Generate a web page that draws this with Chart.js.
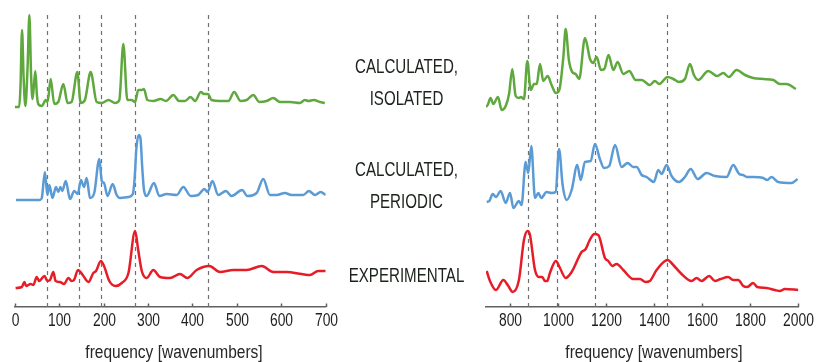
<!DOCTYPE html>
<html>
<head>
<meta charset="utf-8">
<script src="https://cdn.jsdelivr.net/npm/chart.js@4.4.1/dist/chart.umd.min.js"></script>
<style>
  body { margin: 0; background: #fff; width: 816px; height: 362px; position: relative; overflow: hidden;
         font-family: 'Liberation Sans', Arial, sans-serif; }
  #left { position: absolute; left: 0; top: 0; width: 345px; height: 362px; }
  #right { position: absolute; left: 466px; top: 0; width: 350px; height: 362px; }
  .lbl { position: absolute; left: 306px; width: 201px; text-align: center; font-size: 21px;
         line-height: 32px; color: #1c221c; transform: scaleX(0.72); }
  .axt { position: absolute; width: 260px; text-align: center; font-size: 18px; line-height: 20px;
         top: 342px; color: #262626; transform: scaleX(0.86); }
</style>
</head>
<body>
<div id="left"><canvas id="lowChart"></canvas></div>
<div id="right"><canvas id="highChart"></canvas></div>
<div class="lbl" style="top:50px">CALCULATED,<br>ISOLATED</div>
<div class="lbl" style="top:153px">CALCULATED,<br>PERIODIC</div>
<div class="lbl" style="top:259px">EXPERIMENTAL</div>
<div class="axt" style="left:44px">frequency [wavenumbers]</div>
<div class="axt" style="left:524px">frequency [wavenumbers]</div>

<script>
// tick labels
const lowTicks = [0, 100, 200, 300, 400, 500, 600, 700];
const highTicks = [800, 1000, 1200, 1400, 1600, 1800, 2000];

// dashed reference frequencies
const lowMarks = [72, 144, 195, 271, 435];
const highMarks = [875, 995, 1155, 1455];

// vertical offset of each trace (stacked spectra)
const offsetIsolated = 200;
const offsetPeriodic = 107;
const offsetExperimental = 19;

// [frequency, intensity]
const isolatedLow = [[0,0],[10,0],[13,20],[16.5,77],[20,30],[24,1],[29,40],[33,92],[37,30],[40,8],[43,20],[46.5,36],[50,12],[53,3],[61,1],[70,7],[74,5],[81,28],[89,3],[98,5],[109.5,23],[119,4],[128,5],[141,35],[148.5,4],[158,7],[171,35],[184.5,5],[196,4],[211,7],[226,4],[235.5,7],[244.5,63],[253.5,7],[263,7],[271,5],[278,17],[286,17],[291,18],[298.5,7],[312,6],[328.5,8],[340.5,6],[357,12],[370,6],[383,6],[396,10],[406,6],[419,15],[426,13],[435,13],[443,7],[462,6],[481,6],[494,15],[508.5,6],[522,7],[537,12],[550.5,5],[567,6],[582,9],[597,5],[619.5,5],[642,4],[653,7],[661,6],[673.5,7],[687,5],[698,4]];
const periodicLow = [[3,0],[57,0],[61,2],[68,28],[73.5,5],[78,15],[85,2],[93,13],[98,8],[103,13],[107,9],[115,19],[124.5,1],[134,9],[142,6],[149,20],[156,13],[162,22],[169.5,2],[179,7],[190.5,41],[196,19],[201,17],[209,4],[220.5,16],[229.5,5],[237,2],[256,3],[266,6],[270,22],[274,52],[279,65],[283,62],[287,33],[291,10],[297,4],[313.5,17],[325.5,4],[342,6],[364.5,5],[379.5,13],[396,4],[413,5],[427,11],[434,8],[445,19],[458,5],[475.5,9],[488,4],[512,10],[523.5,4],[544.5,7],[559.5,21],[574.5,5],[589.5,5],[608,7],[623,5],[642,5],[649.5,5],[662,9],[676,5],[688.5,8],[700,5]];
const experimentalLow = [[2,0],[16,1],[22,6],[25.5,2],[36,4],[42,3],[49.5,11],[55,7],[67,12],[73.5,7],[79.5,8],[87,16],[92,7],[102,6],[111,4],[121,10],[128,7],[133.5,8],[142.5,18],[153,13],[166,6],[177,15],[183,17],[194,27],[201,22],[213,7],[227,2],[241,5],[256,15],[271,57],[278,38],[286,17],[297,10],[312,18],[327,11],[349.5,10],[372,14],[388.5,10],[409.5,18],[438,22],[462,16],[492,18],[522,18],[556,22],[582,16],[612,16],[646,14],[664.5,13],[683,17],[700,17]];

const isolatedHigh = [[700,0],[707,2],[719,9],[730.5,3],[750,10],[765,-3],[782,1],[796,13],[809.5,38],[823.5,11],[837,9],[845,10],[858,8],[872,46],[886,17],[900,23],[911,23],[925,43],[938.5,26],[956.5,31],[973,22],[991,14],[1005,17],[1022,50],[1031.5,78],[1045,47],[1059,35],[1073,33],[1088,28],[1112,69],[1133,48],[1146.5,44],[1160.5,50],[1178.5,37],[1192.5,38],[1210,52],[1230,37],[1248,45],[1271.5,33],[1296.5,36],[1323,27],[1348,27],[1382,22],[1403,26],[1421,23],[1456,30],[1479.5,28],[1503,25],[1528,28],[1549,43],[1565.5,32],[1583.5,27],[1625,36],[1662.5,31],[1687.5,34],[1711,30],[1743,37],[1778,32],[1812,29],[1854,28],[1896,27],[1923,23],[1951,23],[1990,18]];
const periodicHigh = [[703,-2],[714,-1],[728,6],[741.5,3],[761,9],[782,-3],[800,7],[814,-8],[837,-1],[848,-5],[865,38],[876,27],[888.5,54],[904,2],[918,7],[930,2],[952,8],[973,7],[990,8],[1004,51],[1019,15],[1036,0],[1056.5,10],[1080,35],[1094,20],[1112,38],[1135.5,39],[1153.5,56],[1174,41],[1191,32],[1213,34],[1237,55],[1264.5,33],[1289.5,37],[1313,33],[1327,33],[1348,25],[1368.5,23],[1399,18],[1417,30],[1431,26],[1452,35],[1472.5,24],[1503,18],[1528,23],[1552,31],[1581,21],[1618,27],[1653,24],[1701.5,23],[1729,35],[1754,26],[1770,25],[1787.5,23],[1812,23],[1854,22],[1870.5,20],[1888.5,23],[1916.5,18],[1972,17],[1997,21]];
const experimentalHigh = [[703,17],[716.5,7],[741.5,-2],[772,8],[793,2],[811,-4],[837,8],[858,48],[873,57],[883,53],[904,18],[920.5,11],[934,11],[945.5,7],[955,7],[966,15],[991,27],[1008,20],[1031.5,10],[1056.5,16],[1098,36],[1115,39],[1130,47],[1151,54],[1167.5,53],[1195,30],[1209,27],[1225.5,22],[1243.5,24],[1271.5,18],[1313,9],[1341,9],[1364,6],[1382,7],[1410,18],[1456,28],[1479.5,23],[1510,15],[1556,7],[1576.5,10],[1597.5,7],[1629,12],[1653,7],[1676.5,9],[1708,11],[1729,8],[1750,8],[1771,2],[1787.5,1],[1812,5],[1829,1],[1868,0],[1902.5,-2],[1923,-3],[1944,-1],[2000,-2]];

const GREEN = '#5fa83e';
const BLUE = '#5b9bd5';
const RED = '#e61c27';
const AXIS = '#606060';

// dashed vertical guides, drawn behind the traces
const dashedLines = {
    id: 'dashedLines',
    beforeDatasetsDraw(chart, args, opts) {
        const ctx = chart.ctx;
        const area = chart.chartArea;
        const x = chart.scales.x;
        ctx.save();
        ctx.strokeStyle = '#707070';
        ctx.lineWidth = 1.2;
        ctx.setLineDash([4, 4]);
        opts.marks.forEach(function(v){
            const px = Math.round(x.getPixelForValue(v)) + 0.5;
            ctx.beginPath();
            ctx.moveTo(px, area.top + 5);
            ctx.lineTo(px, area.bottom);
            ctx.stroke();
        });
        ctx.restore();
    }
};

// inward tick marks and narrow tick labels under the axis
const narrowTicks = {
    id: 'narrowTicks',
    afterDraw(chart, args, opts) {
        const ctx = chart.ctx;
        const x = chart.scales.x;
        const y0 = chart.chartArea.bottom;
        ctx.save();
        ctx.strokeStyle = AXIS;
        ctx.lineWidth = 1.5;
        ctx.fillStyle = '#1e1e1e';
        ctx.font = "18px 'Liberation Sans', Arial, sans-serif";
        ctx.textAlign = 'center';
        ctx.textBaseline = 'middle';
        opts.ticks.forEach(function(v){
            const px = Math.round(x.getPixelForValue(v)) + 0.5;
            ctx.beginPath();
            ctx.moveTo(px, y0);
            ctx.lineTo(px, y0 - 3.5);
            ctx.stroke();
            ctx.save();
            ctx.translate(px, y0 + 14);
            ctx.scale(0.77, 1);
            ctx.fillText(String(v), 0, 0);
            ctx.restore();
        });
        ctx.restore();
    }
};

function trace(points, offset, color){
    return {
        data: points.map(p => ({x: p[0], y: p[1] + offset})),
        borderColor: color,
        borderWidth: 2.5,
        pointRadius: 0,
        fill: false,
        cubicInterpolationMode: 'monotone'
    };
}

function makeChart(id, sets, xmin, xmax, ticks, marks, padLeft, padRight){
    return new Chart(document.getElementById(id), {
        type: 'line',
        data: { datasets: sets },
        options: {
            responsive: true,
            maintainAspectRatio: false,
            animation: false,
            layout: { padding: { left: padLeft, right: padRight, top: 10, bottom: 55 } },
            plugins: {
                legend: { display: false },
                tooltip: { enabled: false },
                dashedLines: { marks: marks },
                narrowTicks: { ticks: ticks }
            },
            scales: {
                x: {
                    type: 'linear',
                    min: xmin,
                    max: xmax,
                    border: { display: true, color: AXIS, width: 1.5 },
                    grid: { display: false, drawTicks: false, tickLength: 0 },
                    ticks: { display: false, padding: 0 }
                },
                y: { display: false, min: 0, max: 297 }
            }
        },
        plugins: [dashedLines, narrowTicks]
    });
}

makeChart('lowChart', [
    trace(isolatedLow, offsetIsolated, GREEN),
    trace(periodicLow, offsetPeriodic, BLUE),
    trace(experimentalLow, offsetExperimental, RED)
], 0, 700, lowTicks, lowMarks, 14.7, 19.3);

makeChart('highChart', [
    trace(isolatedHigh, offsetIsolated, GREEN),
    trace(periodicHigh, offsetPeriodic, BLUE),
    trace(experimentalHigh, offsetExperimental, RED)
], 700, 2000, highTicks, highMarks, 20, 17.7);
</script>
</body>
</html>
